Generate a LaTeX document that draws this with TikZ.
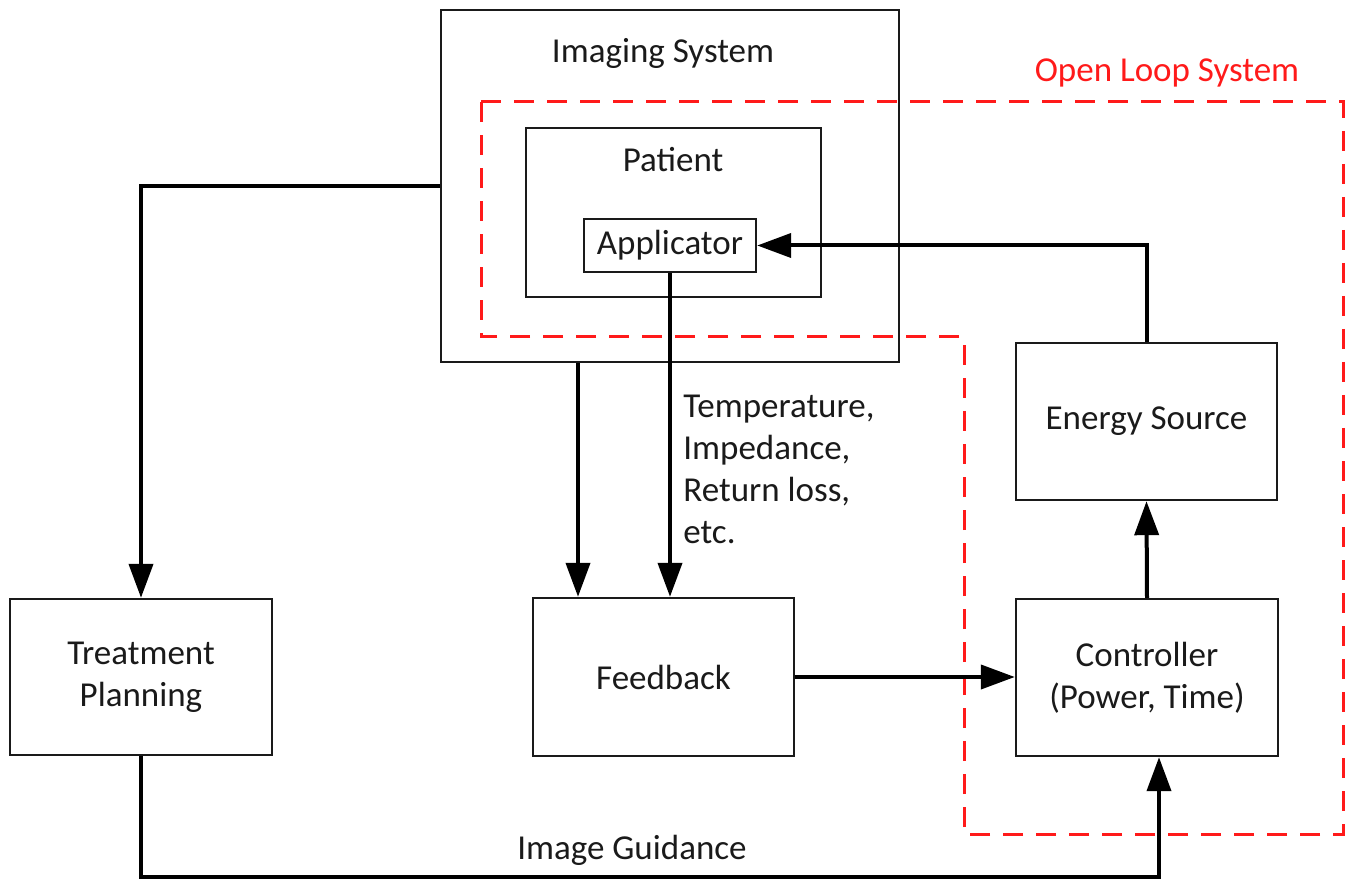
\documentclass[tikz,border=0pt]{standalone}
\usepackage{fontspec}
\setmainfont{Carlito}
\usetikzlibrary{arrows.meta}
\definecolor{ink}{HTML}{1A1A1A}
\definecolor{loopred}{HTML}{FF1A1A}
\begin{document}
\begin{tikzpicture}[x=0.5pt,y=-0.5pt,
  font=\fontsize{17.5pt}{21pt}\selectfont,
  every node/.style={text=ink},
  blk/.style={draw=ink,line width=1.2pt,inner sep=0pt,align=center},
  arr/.style={line width=2pt,-{Triangle[length=17pt,width=12pt]}},
  loop/.style={draw=loopred,line width=1.5pt,dash pattern=on 10pt off 6.5pt}]
\useasboundingbox (0,0) rectangle (1356,882);

% boxes
\node[blk,minimum width=229pt,minimum height=176pt] (img) at (670,186) {};
\node (imgtxt) at (663,53) {Imaging System};
\node[blk,minimum width=147.5pt,minimum height=84.5pt] (pat) at (673.5,212.5) {};
\node (pattxt) at (673,160) {Patient};
\node[blk,minimum width=86pt,minimum height=26.5pt] (app) at (670,245.5) {Applicator};
\node[blk,minimum width=130.5pt,minimum height=78.5pt] (energy) at (1146.5,421.5) {Energy Source};
\node[blk,minimum width=131pt,minimum height=78.5pt] (ctrl) at (1147,677.5) {Controller\\(Power, Time)};
\node[blk,minimum width=131pt,minimum height=78pt] (treat) at (141,677) {Treatment\\Planning};
\node[blk,minimum width=130.5pt,minimum height=79pt] (fb) at (663.5,677) {Feedback};

% open loop region
\draw[loop] (481,102) -- (1343,102) -- (1343,834) -- (964,834) -- (964,337) -- (481,337) -- cycle;
\node[text=loopred] (olstxt) at (1167,73) {Open Loop System};

% connectors
\draw[arr] (img.west) -| (treat.north);
\coordinate (imgdrop) at (578,0);
\draw[arr] (img.south -| imgdrop) -- (fb.north -| imgdrop);
\draw[arr] (app.south) -- (app.south |- fb.north);
\node[anchor=north west,inner sep=0pt,align=left] (meas) at (683,395)
  {Temperature,\\Impedance,\\Return loss,\\etc.};
\draw[arr] (fb.east) -- (fb.east -| ctrl.west);
\draw[arr] (ctrl.north) -- (energy.south);
\draw[arr] (energy.north) |- (app.east);
\coordinate (guide) at (1159,877);
\draw[arr] (treat.south) |- (guide) -- (guide |- ctrl.south);
\node (guidetxt) at (632,850) {Image Guidance};
\end{tikzpicture}
\end{document}
